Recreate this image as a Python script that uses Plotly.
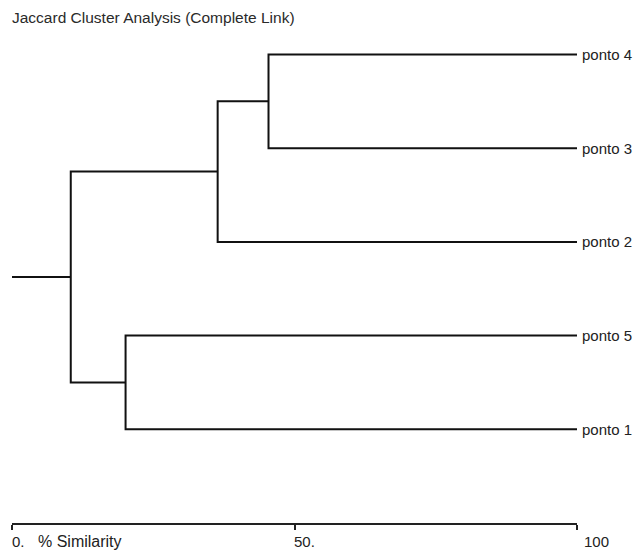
import plotly.graph_objects as go

# Leaf labels, top to bottom as drawn
leaves = ["ponto 4", "ponto 3", "ponto 2", "ponto 5", "ponto 1"]

# Merge steps (complete link): child A, child B, % similarity of the join
merge_a = ["ponto 4", "ponto 5", "C1", "C3"]
merge_b = ["ponto 3", "ponto 1", "ponto 2", "C2"]
merge_sim = [45.4, 20.1, 36.4, 10.4]
merge_names = ["C1", "C2", "C3", "C4"]

# Axis ticks and their labels
tick_vals = [0, 50, 100]
tick_text = ["0.", "50.", "100"]
axis_title = "% Similarity"
title_text = "Jaccard Cluster Analysis (Complete Link)"

LEAF_SIM = 100.0
INK = "#111111"
TEXT = "#222222"
FONT = "Liberation Sans, Arial, sans-serif"

# node positions: x = similarity, y = vertical slot (bottom leaf = 1)
n = len(leaves)
pos = {name: (LEAF_SIM, n - i) for i, name in enumerate(leaves)}

xs, ys = [], []
for a, b, s, nm in zip(merge_a, merge_b, merge_sim, merge_names):
    xa, ya = pos[a]
    xb, yb = pos[b]
    # horizontal arms from each child back to the join, plus the vertical bar
    xs += [xa, s, s, xb, None]
    ys += [ya, ya, yb, yb, None]
    pos[nm] = (s, (ya + yb) / 2)

# stem from the root out to 0 %
root_x, root_y = pos[merge_names[-1]]
xs += [root_x, 0, None]
ys += [root_y, root_y, None]

fig = go.Figure()
fig.add_trace(go.Scatter(
    x=xs, y=ys, mode="lines",
    line=dict(color=INK, width=2, shape="linear"),
    cliponaxis=False, hoverinfo="skip", showlegend=False,
))

annotations = []
for name in leaves:
    lx, ly = pos[name]
    annotations.append(dict(
        x=lx, y=ly, xref="x", yref="y", text=name, showarrow=False,
        xanchor="left", yanchor="middle", xshift=3,
        font=dict(family=FONT, size=15, color=TEXT),
    ))

label_shift = {"0.": -2, "50.": -3, "100": 5}
for v, t in zip(tick_vals, tick_text):
    annotations.append(dict(
        x=v, y=0, xref="x", yref="y", text=t, showarrow=False,
        xanchor="left", yanchor="top", yshift=-8, xshift=label_shift.get(t, 0),
        font=dict(family=FONT, size=15, color=TEXT),
    ))
annotations.append(dict(
    x=5, y=0, xref="x", yref="y", text=axis_title, showarrow=False,
    xanchor="left", yanchor="top", yshift=-8, xshift=-4,
    font=dict(family=FONT, size=16, color=TEXT),
))
annotations.append(dict(
    x=0, y=1, xref="paper", yref="paper", text=title_text, showarrow=False,
    xanchor="left", yanchor="middle", xshift=-2,
    font=dict(family=FONT, size=15.5, color="#2a2a2a"),
))

fig.update_layout(
    width=634, height=550,
    margin=dict(l=12, r=57, t=17, b=27),
    paper_bgcolor="white", plot_bgcolor="white",
    annotations=annotations,
    xaxis=dict(
        range=[0, 100], showline=True, linecolor=TEXT, linewidth=1.5,
        ticks="outside", ticklen=5, tickwidth=1.5, tickcolor=TEXT,
        tickvals=tick_vals, showticklabels=False,
        showgrid=False, zeroline=False, fixedrange=True,
    ),
    yaxis=dict(range=[0, 5.4], visible=False, fixedrange=True),
)

fig.write_html("out.html")
